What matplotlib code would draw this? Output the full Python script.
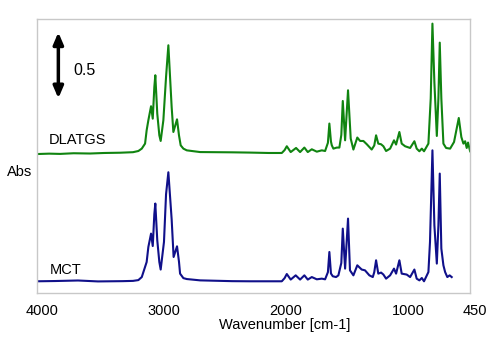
import matplotlib
matplotlib.use("Agg")
import matplotlib.pyplot as plt
from matplotlib.transforms import ScaledTranslation

plt.rcParams['font.family'] = ['Liberation Sans', 'DejaVu Sans']

# DLATGS spectrum (wavenumber, absorbance incl. offset)
wn_dlatgs = [4000, 3900, 3811, 3700, 3565, 3450, 3319, 3213, 3169, 3141, 3114, 3101, 3087, 3065,
             3051, 3038, 3030, 3014, 2997, 2986, 2964, 2942, 2923, 2896, 2882, 2852, 2836, 2822,
             2800, 2772, 2663, 2400, 2253, 2100, 1993, 1970, 1952, 1920, 1876, 1843, 1808, 1780,
             1747, 1706, 1665, 1638, 1615, 1603, 1590, 1583, 1570, 1542, 1521, 1505, 1493, 1474,
             1450, 1428, 1406, 1374, 1351, 1324, 1296, 1256, 1235, 1220, 1202, 1179, 1160, 1138,
             1105, 1073, 1056, 1029, 1010, 982, 941, 906, 887, 865, 845, 827, 791, 772, 758, 742,
             722, 709, 698, 685, 668, 646, 613, 581, 542, 521, 504, 490, 477, 466, 449]
abs_dlatgs = [1.055, 1.058, 1.056, 1.061, 1.059, 1.063, 1.065, 1.069, 1.078, 1.096, 1.134, 1.235, 1.311, 1.417,
              1.323, 1.563, 1.652, 1.361, 1.197, 1.154, 1.311, 1.639, 1.879, 1.411, 1.222, 1.318, 1.197, 1.121,
              1.096, 1.083, 1.070, 1.068, 1.066, 1.063, 1.063, 1.085, 1.114, 1.070, 1.101, 1.070, 1.104, 1.070,
              1.091, 1.073, 1.083, 1.078, 1.140, 1.286, 1.150, 1.121, 1.096, 1.104, 1.104, 1.200, 1.457, 1.159,
              1.538, 1.172, 1.089, 1.180, 1.154, 1.154, 1.129, 1.089, 1.120, 1.197, 1.134, 1.129, 1.114, 1.078,
              1.096, 1.159, 1.127, 1.222, 1.134, 1.114, 1.101, 1.152, 1.096, 1.076, 1.096, 1.076, 1.134, 1.477, 2.043, 1.598,
              1.192, 1.477, 1.899, 1.477, 1.134, 1.101, 1.096, 1.146, 1.328, 1.184, 1.134, 1.152, 1.101, 1.142, 1.076]

# MCT spectrum
wn_mct = [4000, 3850, 3664, 3500, 3300, 3213, 3169, 3141, 3101, 3087, 3065, 3051, 3038, 3030,
          3014, 2997, 2986, 2959, 2942, 2923, 2896, 2880, 2852, 2836, 2827, 2800, 2772, 2663,
          2400, 2253, 1993, 1970, 1952, 1920, 1879, 1843, 1808, 1780, 1747, 1706, 1665, 1638,
          1615, 1603, 1590, 1575, 1548, 1529, 1505, 1493, 1474, 1450, 1434, 1406, 1374, 1338,
          1311, 1275, 1247, 1235, 1220, 1202, 1179, 1160, 1138, 1105, 1073, 1056, 1029, 1010,
          969, 941, 906, 887, 865, 845, 827, 791, 778, 758, 742, 722, 709, 698, 685, 668, 654,
          636, 617, 600]
abs_mct = [0.091, 0.093, 0.097, 0.090, 0.092, 0.094, 0.100, 0.123, 0.237, 0.351, 0.452, 0.358, 0.600, 0.680,
           0.402, 0.237, 0.180, 0.389, 0.750, 0.917, 0.560, 0.275, 0.356, 0.240, 0.149, 0.115, 0.108, 0.098,
           0.092, 0.091, 0.091, 0.115, 0.146, 0.104, 0.136, 0.104, 0.136, 0.104, 0.123, 0.106, 0.111, 0.106,
           0.160, 0.313, 0.150, 0.129, 0.123, 0.136, 0.230, 0.490, 0.187, 0.566, 0.174, 0.136, 0.212, 0.180,
           0.174, 0.136, 0.123, 0.160, 0.250, 0.149, 0.157, 0.142, 0.111, 0.136, 0.187, 0.149, 0.250, 0.149,
           0.142, 0.123, 0.180, 0.111, 0.098, 0.116, 0.091, 0.161, 0.389, 1.083, 0.515, 0.225, 0.515, 0.907,
           0.339, 0.212, 0.161, 0.123, 0.136, 0.123]

xticks = [4000, 3000, 2000, 1000, 450]

fig = plt.figure(figsize=(5, 3.5), dpi=100)
ax = fig.add_axes([0.074, 0.162, 0.866, 0.7837])

ax.plot(wn_dlatgs, abs_dlatgs, color='#108410', lw=1.5)
ax.plot(wn_mct, abs_mct, color='#10108a', lw=1.5)

ax.set_xlim(4000, 450)
ax.set_ylim(0, 2.078)
ax.set_xticks(xticks)
ax.set_xticklabels([str(t) for t in xticks])
ax.set_yticks([])
ax.tick_params(axis='x', length=0, pad=8, labelsize=10.5)
for lab in ax.get_xticklabels():
    lab.set_transform(lab.get_transform() + ScaledTranslation(0.05, 0, fig.dpi_scale_trans))

for s in ax.spines.values():
    s.set_color('#c8c8c8')
    s.set_linewidth(1.0)

ax.set_xlabel('Wavenumber [cm-1]', fontsize=10.5, va='center')
ax.xaxis.set_label_coords(0.573, -0.1156)
ax.set_ylabel('Abs', fontsize=10.5, rotation=0, ha='right', va='center')
ax.yaxis.set_label_coords(-0.012, 0.442)

# scale bar
ax.annotate('', xy=(3825, 1.977), xytext=(3825, 1.477),
            arrowprops=dict(arrowstyle='<|-|>,head_length=0.7,head_width=0.3',
                            lw=2.5, color='black', shrinkA=0, shrinkB=0))
ax.text(3705, 1.689, '0.5', fontsize=11.5, va='center', ha='left')

ax.text(3907, 1.159, 'DLATGS', fontsize=10.5, va='center', ha='left')
ax.text(3899, 0.18, 'MCT', fontsize=10.5, va='center', ha='left')

fig.savefig('out.png', dpi=100)
